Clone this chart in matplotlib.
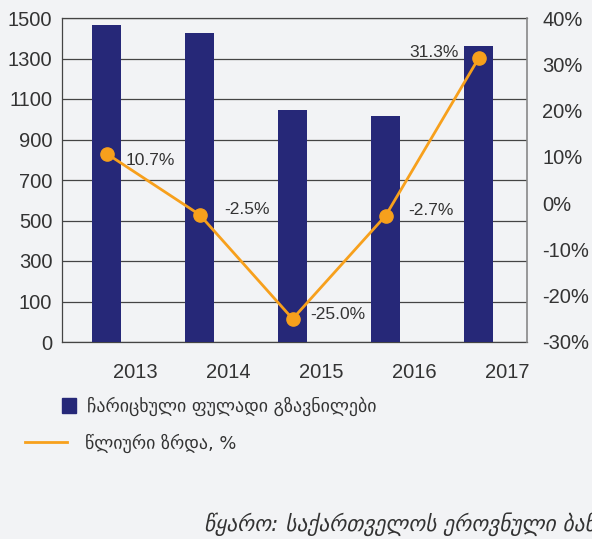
import numpy as np
import matplotlib.pyplot as plt
from matplotlib.patches import Rectangle
from matplotlib.lines import Line2D
from matplotlib.transforms import ScaledTranslation

years = ["2013", "2014", "2015", "2016", "2017"]
remittances = [1468, 1431, 1073, 1044, 1370]   # მლნ აშშ დოლარი
growth = [10.7, -2.5, -25.0, -2.7, 31.3]        # %
growth_labels = ["10.7%", "-2.5%", "-25.0%", "-2.7%", "31.3%"]
left_tick_labels = ["0", "100", "300", "500", "700", "900", "1100", "1300", "1500"]
right_ticks = [-30, -20, -10, 0, 10, 20, 30, 40]

bg = "#f2f3f5"
navy = "#262878"
orange = "#f7a01c"
txt = "#333333"

plt.rcParams['font.family'] = ['Liberation Sans', 'DejaVu Sans']

fig = plt.figure(figsize=(5.92, 5.39), dpi=100, facecolor=bg)
ax = fig.add_axes([62/592, 1 - 342/539, 465/592, 324/539])
ax.set_facecolor(bg)

x = np.arange(len(years))
ax.bar(x, remittances, width=0.31, color=navy, zorder=3)
ax.set_xlim(-0.48, 4.52)
ax.set_ylim(0, 1500)
ax.set_yticks(np.linspace(0, 1500, len(left_tick_labels)))
ax.set_yticklabels(left_tick_labels)
ax.grid(axis='y', color='#444444', lw=0.9, zorder=0)
ax.tick_params(axis='y', length=0, pad=7, labelsize=14.5, labelcolor=txt)
ax.set_xticks(x)
ax.set_xticklabels(years)
ax.tick_params(axis='x', length=0, pad=15, labelsize=14.5, labelcolor=txt)
for lab in ax.get_xticklabels():
    lab.set_transform(lab.get_transform() + ScaledTranslation(0.29, 0, fig.dpi_scale_trans))
for s in ['left', 'bottom', 'top']:
    ax.spines[s].set_color('#444444')
    ax.spines[s].set_linewidth(0.9)
ax.spines['right'].set_visible(False)

ax2 = ax.twinx()
ax2.plot(x, growth, color=orange, lw=2, marker='o', markersize=9.5, zorder=5)
ax2.set_ylim(-30, 40)
ax2.set_yticks(right_ticks)
ax2.set_yticklabels([f"{t}%" for t in right_ticks])
ax2.tick_params(axis='y', length=0, pad=11, labelsize=14.5, labelcolor=txt)
for s in ['left', 'bottom', 'top']:
    ax2.spines[s].set_visible(False)
ax2.spines['right'].set_color('#888888')
ax2.spines['right'].set_linewidth(1.2)

# label offsets in points
offsets = [(14, -5, 'left'), (18, 4, 'left'), (13, 3, 'left'), (16, 4, 'left'), (-14, 4, 'right')]
for xi, g, lab, (dx, dy, ha) in zip(x, growth, growth_labels, offsets):
    ax2.annotate(lab, (xi, g), xytext=(dx, dy), textcoords='offset points',
                 ha=ha, va='center', fontsize=12.5, color=txt)

# legend
W, H = 592, 539
fig.add_artist(Rectangle((62/W, 1 - 413/H), 14/W, 15/H, transform=fig.transFigure,
                         color=navy))
fig.text(87/W, 1 - 406/H, "ჩარიცხული ფულადი გზავნილები", family='DejaVu Sans',
         fontsize=12.9, color=txt, va='center')
fig.add_artist(Line2D([25/W, 67/W], [1 - 442/H, 1 - 442/H], transform=fig.transFigure,
                      color=orange, lw=2))
fig.text(85/W, 1 - 443/H, "წლიური ზრდა, %", family='DejaVu Sans',
         fontsize=12.9, color=txt, va='center')

fig.text(204/W, 1 - 524/H, "წყარო: საქართველოს ეროვნული ბანკი", family='DejaVu Sans',
         style='italic', fontsize=15.5, color=txt, va='center')

fig.savefig("out.png", dpi=100, facecolor=bg)
